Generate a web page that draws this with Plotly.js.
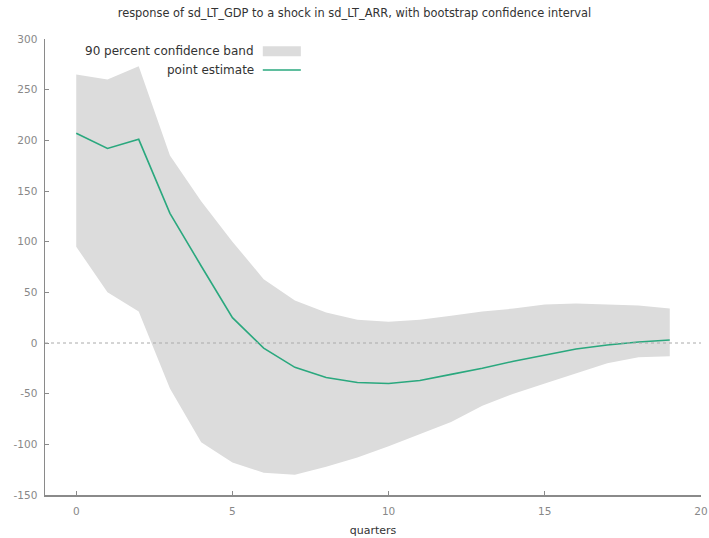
<!DOCTYPE html>
<html>
<head>
<meta charset="utf-8">
<script src="https://cdn.plot.ly/plotly-3.0.1.min.js"></script>
<style>
html,body{margin:0;padding:0;background:#fff;}
#chart{width:709px;height:538px;}
</style>
</head>
<body>
<div id="chart"></div>
<script>
// quarters after the shock
var quarters = [0,1,2,3,4,5,6,7,8,9,10,11,12,13,14,15,16,17,18,19];
// 90 percent bootstrap confidence band
var bandLower = [95,50,31,-45,-98,-118,-128,-130,-122,-113,-102,-90,-78,-62,-50,-40,-30,-20,-14,-13];
var bandUpper = [265,260,273,185,140,100,63,42,30,23,21,23,27,31,34,38,39,38,37,34];
// point estimate
var pointEstimate = [207,192,201,128,76,25,-5,-24,-34,-39,-40,-37,-31,-25,-18,-12,-6,-2,1,3];

var xTickVals = [0,5,10,15,20];
var xTickText = ['0','5','10','15','20'];
var yTickVals = [-150,-100,-50,0,50,100,150,200,250,300];
var yTickText = ['-150','-100','-50','0','50','100','150','200','250','300'];

var titleText = 'response of sd_LT_GDP to a shock in sd_LT_ARR, with bootstrap confidence interval';
var bandLabel = '90 percent confidence band';
var lineLabel = 'point estimate';

var bandColor = '#dcdcdc';
var lineColor = '#2aa87e';
var axisColor = '#8a8a8a';

var traces = [
  {x: quarters, y: bandLower, type: 'scatter', mode: 'lines', line: {width: 0, color: bandColor},
   showlegend: false, hoverinfo: 'skip'},
  {x: quarters, y: bandUpper, type: 'scatter', mode: 'lines', line: {width: 0, color: bandColor},
   fill: 'tonexty', fillcolor: bandColor, name: bandLabel, showlegend: false},
  {x: quarters, y: pointEstimate, type: 'scatter', mode: 'lines', line: {width: 1.6, color: lineColor},
   name: lineLabel, showlegend: false}
];

var layout = {
  width: 709, height: 538,
  margin: {l: 45, r: 8, t: 39, b: 43},
  paper_bgcolor: '#ffffff', plot_bgcolor: '#ffffff',
  font: {family: 'DejaVu Sans, sans-serif', size: 10, color: '#777'},
  title: {text: titleText, x: 0.5, xref: 'container', xanchor: 'center', y: 0.975, yanchor: 'middle',
          font: {size: 11.4, color: '#333'}},
  xaxis: {range: [-1, 20], tickvals: xTickVals, ticktext: xTickText, showgrid: false, zeroline: false,
          showline: true, linecolor: axisColor, linewidth: 1.5, ticks: 'inside', ticklen: 4, tickcolor: axisColor,
          tickfont: {size: 10.5, color: '#888'}, ticklabelstandoff: 6, fixedrange: true,
          title: {text: 'quarters', font: {size: 11, color: '#333'}, standoff: 10}},
  yaxis: {range: [-150, 300], tickvals: yTickVals, ticktext: yTickText, showgrid: false, zeroline: false,
          showline: true, linecolor: axisColor, linewidth: 1.5, ticks: 'inside', ticklen: 4, tickcolor: axisColor,
          tickfont: {size: 10.5, color: '#888'}, ticklabelstandoff: 4, fixedrange: true},
  shapes: [
    {type: 'line', xref: 'paper', x0: 0, x1: 1, yref: 'y', y0: 0, y1: 0, layer: 'above',
     line: {color: '#aaaaaa', width: 1, dash: 'dot'}},
    {type: 'rect', xref: 'paper', yref: 'paper', x0: 0.332, x1: 0.39, y0: 0.962, y1: 0.984,
     fillcolor: bandColor, line: {width: 0}},
    {type: 'line', xref: 'paper', yref: 'paper', x0: 0.332, x1: 0.39, y0: 0.932, y1: 0.932,
     line: {color: lineColor, width: 1.6}}
  ],
  annotations: [
    {text: bandLabel, xref: 'paper', yref: 'paper', x: 0.322, y: 0.974, xanchor: 'right', yanchor: 'middle',
     showarrow: false, font: {size: 12, color: '#333'}},
    {text: lineLabel, xref: 'paper', yref: 'paper', x: 0.322, y: 0.932, xanchor: 'right', yanchor: 'middle',
     showarrow: false, font: {size: 12, color: '#333'}}
  ]
};

Plotly.newPlot('chart', traces, layout, {displayModeBar: false, staticPlot: true});
</script>
</body>
</html>
